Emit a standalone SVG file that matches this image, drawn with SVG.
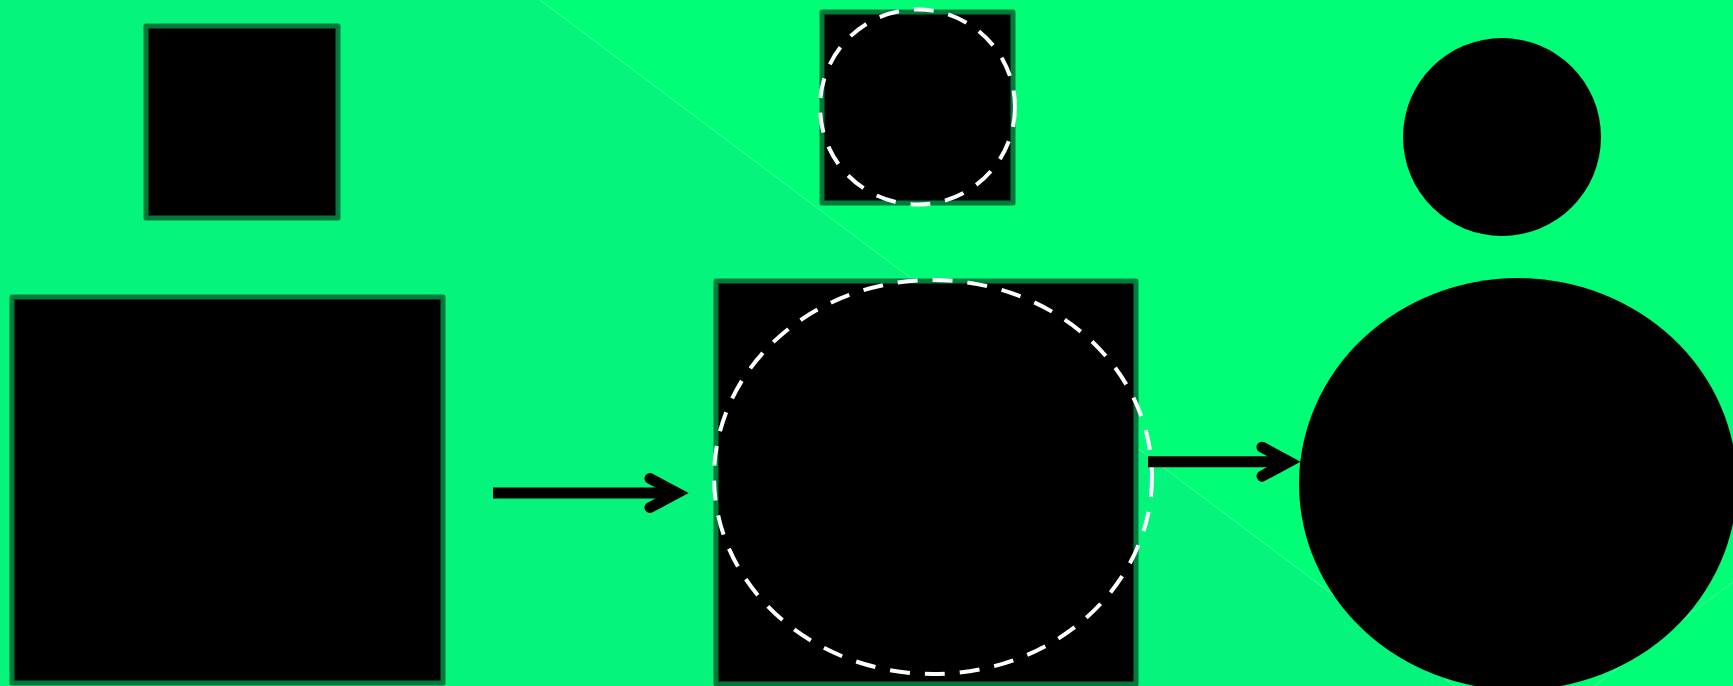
<svg xmlns="http://www.w3.org/2000/svg" width="1733" height="686" viewBox="0 0 1733 686">
  <defs>
    <style>
      .box { fill: #000000; stroke: #007a3a; stroke-width: 5; stroke-linejoin: round; }
      .dash { fill: none; stroke: #ffffff; stroke-width: 4; stroke-dasharray: 20 15; }
      .solid { fill: #000000; stroke: none; }
      .edge { fill: none; stroke: #000000; stroke-width: 11; }
      .seam { fill: none; stroke: #5dffa3; stroke-width: 1; stroke-opacity: 0.7; }
    </style>
    <marker id="head" markerUnits="userSpaceOnUse" markerWidth="60" markerHeight="60" refX="0" refY="0" orient="auto" overflow="visible">
      <path d="M-27,-14.5 L0,0 L-27,14.5" fill="none" stroke="#000000" stroke-width="11" stroke-linecap="round" stroke-linejoin="miter"/>
    </marker>
  </defs>

  <g id="background">
    <rect x="0" y="0" width="1733" height="686" fill="#00fe77"/>
    <polygon points="0,0 540,0 1455,686 0,686" fill="#04f47c"/>
    <line class="seam" x1="540" y1="0" x2="1524.5" y2="738.4"/>
    <line class="seam" x1="1524.5" y1="738.4" x2="1733" y2="582"/>
  </g>

  <g id="node-top-left">
    <rect class="box" x="146" y="26" width="192" height="192"/>
  </g>

  <g id="node-bottom-left">
    <rect class="box" x="12" y="297" width="431" height="386"/>
  </g>

  <g id="node-top-middle">
    <rect class="box" x="822" y="12" width="191" height="191"/>
    <circle class="dash" cx="917.5" cy="107" r="97.5"/>
  </g>

  <g id="node-bottom-middle">
    <rect class="box" x="716" y="281" width="420" height="403"/>
    <ellipse class="dash" cx="933" cy="477" rx="219" ry="197"/>
  </g>

  <g id="node-top-right">
    <circle class="solid" cx="1502" cy="137" r="99"/>
  </g>

  <g id="node-bottom-right">
    <ellipse class="solid" cx="1518" cy="484" rx="219" ry="206"/>
  </g>

  <g id="connectors">
    <line class="edge" x1="493" y1="493" x2="677" y2="493" marker-end="url(#head)"/>
    <line class="edge" x1="1148" y1="461.7" x2="1289" y2="461.7" marker-end="url(#head)"/>
  </g>
</svg>
